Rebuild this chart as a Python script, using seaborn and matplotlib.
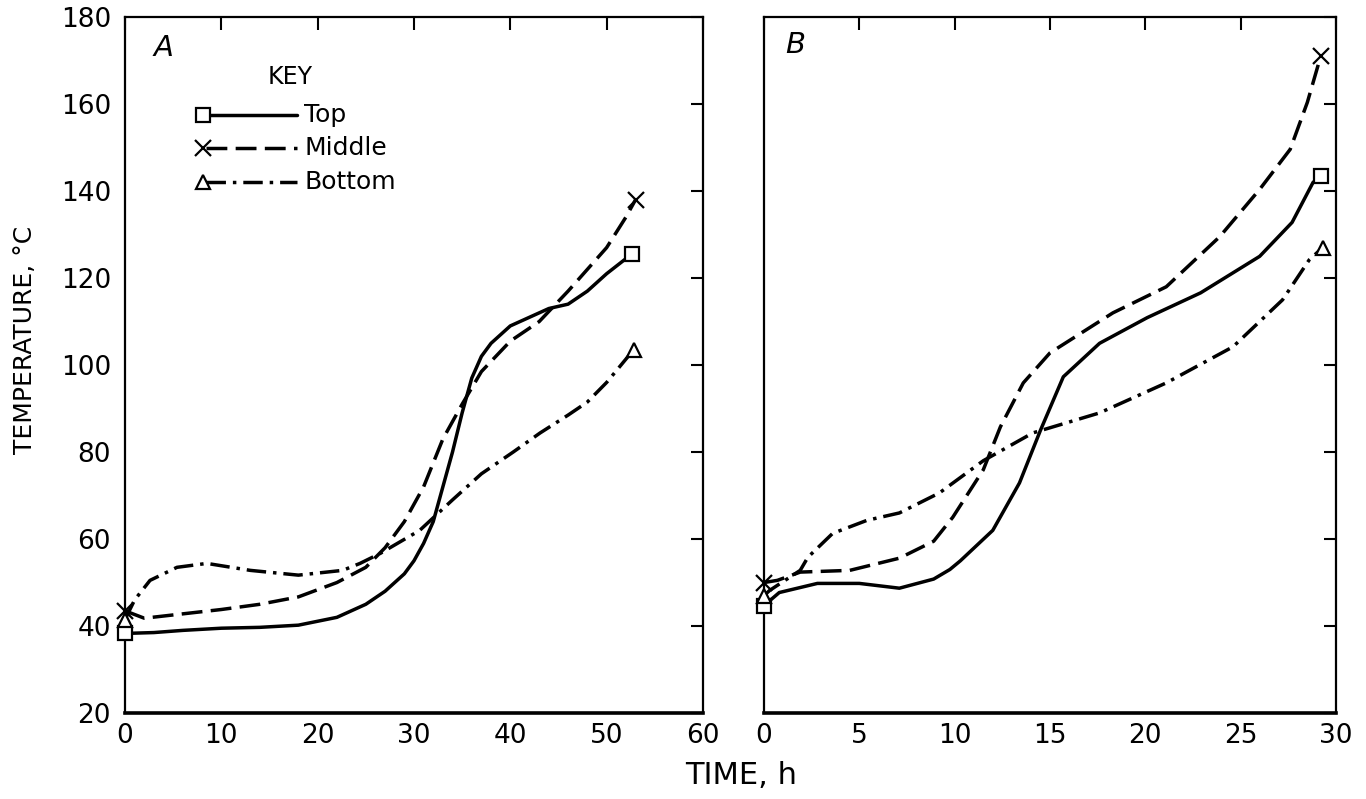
#!/usr/bin/env python3
# -*- coding: utf-8 -*-

"""
Temperature at top, middle and bottom positions versus time (panels A and B)
"""

import matplotlib
matplotlib.use('Agg')
import matplotlib.pyplot as plt
import seaborn as sns

# Panel A, time in h and temperature in degC
a_top_t = [0, 3, 6, 10, 14, 18, 22, 25, 27, 29, 30, 31, 32, 33, 34, 35, 36, 37, 38, 40, 42, 44, 46, 48, 50, 52.6]
a_top_v = [38.3, 38.5, 39, 39.5, 39.7, 40.2, 42, 45, 48, 52, 55, 59, 64, 72, 80, 89, 97, 102, 105, 109, 111, 113,
           114, 117, 121, 125.5]
a_mid_t = [0, 2, 6, 10, 14, 18, 22, 25, 27, 29, 31, 33, 35, 37, 40, 43, 46, 48, 50, 52, 53]
a_mid_v = [43.5, 41.8, 42.8, 43.8, 45, 46.7, 50, 53.5, 58, 64, 72, 83, 91, 98.5, 105.5, 110, 117, 122, 127, 134, 138]
a_bot_t = [0, 1, 2.6, 5.4, 8.5, 13, 18, 22.6, 24.4, 26.5, 30.6, 34, 37, 40.3, 43.1, 46, 48, 50, 52.8]
a_bot_v = [41.5, 46, 50.5, 53.5, 54.4, 52.8, 51.7, 52.8, 54.4, 56.7, 62, 69, 75, 80, 84.4, 88.5, 91.5, 96, 103.5]

# Panel B
b_top_t = [0, 0.8, 2.8, 5, 7.1, 8.9, 9.75, 10.3, 12, 13.4, 14.5, 15.7, 17.6, 20.1, 22.9, 26, 27.7, 28.8, 29.2]
b_top_v = [44.7, 47.7, 49.8, 49.8, 48.7, 50.8, 53, 55, 62, 72.9, 85, 97.3, 105, 110.9, 116.6, 125, 132.8, 142, 143.4]
b_mid_t = [0, 0.7, 1.9, 4.5, 7.1, 8.9, 9.9, 11.5, 12.4, 13.6, 15, 18.3, 21.1, 23.9, 26, 27.6, 28.5, 29.2]
b_mid_v = [50, 50.5, 52.4, 52.8, 55.6, 59.5, 65, 75.9, 85.8, 95.9, 102.8, 112, 118, 129.5, 140.4, 149.6, 160.4, 171]
b_bot_t = [0, 0.3, 1.9, 2.3, 3.6, 5.4, 7.1, 9.2, 11.5, 14.1, 17.6, 21.1, 24.6, 27.2, 28.6, 29.3]
b_bot_v = [47, 48.2, 52.8, 55.8, 61.3, 64.3, 66, 70.6, 78, 84.4, 89, 95.9, 104.2, 115, 124.2, 127]

series_names = ['Top', 'Middle', 'Bottom']
y_ticks = [20, 40, 60, 80, 100, 120, 140, 160, 180]
a_x_ticks = [0, 10, 20, 30, 40, 50, 60]
b_x_ticks = [0, 5, 10, 15, 20, 25, 30]

STYLES = {
    'Top': dict(ls='-', marker='s'),
    'Middle': dict(ls=(0, (15, 6)), marker='x'),
    'Bottom': dict(ls=(0, (14, 5, 2.5, 5)), marker='^'),
}


def set_style():
    sns.set_theme(style='white')
    plt.rcParams['font.family'] = ['DejaVu Sans']
    plt.rcParams['lines.scale_dashes'] = False
    plt.rcParams['axes.edgecolor'] = 'black'
    for key in ['text.color', 'axes.labelcolor', 'xtick.color', 'ytick.color']:
        plt.rcParams[key] = 'black'


def draw_series(ax, name, t, v):
    st = STYLES[name]
    sns.lineplot(x=t, y=v, ax=ax, sort=False, estimator=None, color='black',
                 lw=2.5, linestyle=st['ls'])
    ax.plot([t[0], t[-1]], [v[0], v[-1]], ls='none', marker=st['marker'],
            ms=10 if st['marker'] != 'x' else 11, mfc='white', mec='black',
            mew=1.6, zorder=5, clip_on=False)


def style_axes(ax, xticks, xmax, show_y):
    ax.set_xlim(0, xmax)
    ax.set_ylim(20, 180)
    ax.set_xticks(xticks)
    ax.set_yticks(y_ticks)
    ax.tick_params(axis='both', direction='in', length=9, width=1.5, color='black',
                   labelsize=19, top=True, right=True)
    ax.tick_params(axis='x', pad=7)
    ax.tick_params(axis='y', pad=10, labelleft=show_y)
    for side in ['left', 'right', 'top']:
        ax.spines[side].set_linewidth(1.6)
    ax.spines['bottom'].set_linewidth(2.6)
    ax.grid(False)
    ax.set_xlabel('')
    ax.set_ylabel('')


def draw_key(ax):
    ax.text(0.246, 0.914, 'KEY', transform=ax.transAxes, fontsize=17, va='center', ha='left')
    rows = [0.859, 0.812, 0.763]
    for name, y in zip(series_names, rows):
        st = STYLES[name]
        ax.plot([0.14, 0.298], [y, y], transform=ax.transAxes, color='black', lw=2.5, ls=st['ls'])
        ax.plot([0.135], [y], transform=ax.transAxes, ls='none', marker=st['marker'],
                ms=10 if st['marker'] != 'x' else 11, mfc='white', mec='black', mew=1.6, zorder=5)
        ax.text(0.31, y, name, transform=ax.transAxes, fontsize=18, va='center', ha='left')


def main():
    set_style()
    fig = plt.figure(figsize=(13.66, 7.99), dpi=100)
    ax_a = fig.add_axes([0.0915, 0.1076, 0.4231, 0.871])
    ax_b = fig.add_axes([0.5593, 0.1076, 0.4187, 0.871])

    for name, t, v in zip(series_names, [a_top_t, a_mid_t, a_bot_t], [a_top_v, a_mid_v, a_bot_v]):
        draw_series(ax_a, name, t, v)
    for name, t, v in zip(series_names, [b_top_t, b_mid_t, b_bot_t], [b_top_v, b_mid_v, b_bot_v]):
        draw_series(ax_b, name, t, v)

    style_axes(ax_a, a_x_ticks, 60, True)
    style_axes(ax_b, b_x_ticks, 30, False)
    draw_key(ax_a)

    ax_a.text(0.066, 0.955, 'A', transform=ax_a.transAxes, fontsize=21, style='italic',
              ha='center', va='center')
    ax_b.text(0.054, 0.96, 'B', transform=ax_b.transAxes, fontsize=21, style='italic',
              ha='center', va='center')

    fig.text(0.018, 0.575, 'TEMPERATURE, °C', rotation=90, fontsize=18, ha='center', va='center')
    fig.text(0.5425, 0.03, 'TIME, h', fontsize=22, ha='center', va='center')

    fig.savefig('out.png', dpi=100)
    plt.close(fig)


if __name__ == '__main__':
    main()
